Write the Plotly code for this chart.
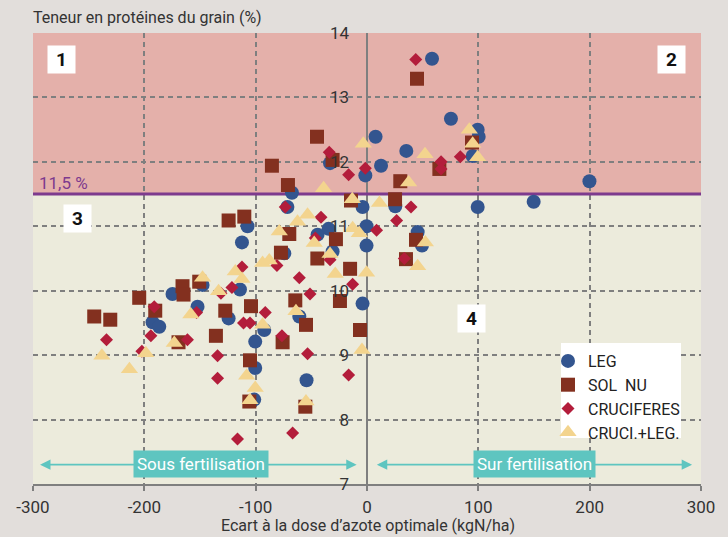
import plotly.graph_objects as go

# ---- data (x: écart à la dose optimale kgN/ha, y: teneur en protéines %) ----
leg_x = [58.4, 75.4, 35.3, 99.4, 100.3, 7.7, 12.6, -1.5, 94.9, -4, 25.4, 99.4, -0.4, -0.4,
         45.5, 49.4, 199.8, 149.7, -4, -33.2, -67.4, -44.4, -34.5, -30.9, -74.3, -60.8, -92.3,
         -100.4, -112.3, -107.3, -114.1, -124.3, -147.7, -152.2, -174.7, -192.6, -186.6,
         -71.5, -100.4, -101.3, -54.3]
leg_y = [13.60, 12.67, 12.17, 12.50, 12.39, 12.39, 11.94, 11.79, 12.09, 11.30, 11.31, 11.30,
         11.00, 10.70, 10.91, 10.70, 11.70, 11.38, 9.80, 11.98, 11.52, 10.87, 10.96, 10.61,
         10.58, 9.60, 9.39, 9.21, 10.75, 11.00, 10.02, 9.57, 10.09, 9.75, 9.95, 9.51, 9.44,
         11.30, 8.80, 8.31, 8.61]

solnu_x = [44.9, 29.9, 25.2, 65, 94.3, 44, 35, -44.9, -85.4, -71.0, -30.9, -14.4, -69.8,
           -27.9, -44.6, -15.2, -24.3, -64.4, -54.8, -75.8, -6.3, -124.3, -110.2, -77.3,
           -104.2, -127.3, -135.7, -169.3, -150.7, -165.7, -164.8, -190.2, -204.6, -245,
           -230.6, -105.1, -105.7, -55.4]
solnu_y = [13.29, 11.70, 11.42, 11.89, 12.30, 10.79, 10.49, 12.39, 11.94, 11.64, 12.03, 11.40,
           10.88, 10.80, 10.50, 10.34, 9.84, 9.85, 9.47, 9.20, 9.39, 11.09, 11.15, 10.59,
           9.76, 9.69, 9.30, 9.20, 10.14, 10.07, 9.94, 9.69, 9.89, 9.60, 9.55, 8.92, 8.28, 8.20]

cruc_x = [43.8, 83.8, 66.5, 66.5, -1.5, 39.5, 26.6, 8.6, 33.5, -33.9, -16.5, -41.3, -73.4,
          -46.4, -33.2, -60.8, -51.2, -12.9, -80.9, -112.3, -121.3, -131.2, -153.1, -191.1,
          -91.4, -110.9, -105.1, -76.4, -161.3, -194.1, -234, -202.2, -134.2, -134.2, -53.4,
          -16.5, -116.3, -66.8]
cruc_y = [13.59, 12.08, 12.00, 11.89, 11.90, 11.30, 11.09, 10.94, 10.50, 12.15, 11.80, 11.14,
          11.30, 10.82, 10.48, 10.20, 9.95, 10.10, 10.39, 10.37, 10.05, 9.96, 9.66, 9.75,
          9.66, 9.50, 9.50, 9.30, 9.24, 9.30, 9.24, 9.06, 8.99, 8.64, 9.02, 8.69, 7.70, 7.79]

crucleg_x = [-3.3, 52.1, 91.9, 94.9, 99.4, 37.4, 11.2, 52.4, 45.5, -0.4, -39, -13.2, -53.4,
             -62.4, -12.9, -6.9, -47.4, -33.2, -28.5, -78.8, -93.8, -87.8, -118.3, -112.3,
             -147.7, -133.3, -158.2, -93.8, -63.8, -173.1, -198.6, -238.1, -4.5, -213.4,
             -108.1, -100.4, -105.1, -54.8]
crucleg_y = [12.28, 12.12, 12.50, 12.28, 12.07, 11.68, 11.36, 10.75, 10.38, 10.28, 11.59, 11.42,
             11.18, 11.07, 10.97, 10.89, 10.74, 10.57, 10.26, 10.92, 10.43, 10.47, 10.30, 10.18,
             10.20, 9.99, 9.63, 9.47, 9.68, 9.19, 9.03, 8.99, 9.08, 8.78, 8.68, 8.49, 8.30, 8.28]

series_names = ["LEG", "SOL  NU", "CRUCIFERES", "CRUCI.+LEG."]
x_ticks = [-300, -200, -100, 0, 100, 200, 300]
y_ticks = [7, 8, 9, 10, 11, 12, 13, 14]
threshold = 11.5

FONT = "Roboto, sans-serif"
GRID = "#7f7f7f"
W, H = 728, 537
ML, MR, MT, MB = 33, 27, 33, 53
PW, PH = W - ML - MR, H - MT - MB


def px_x(p):
    return (p - ML) / PW


def px_y(p):
    return (H - MB - p) / PH


fig = go.Figure()
specs = [
    (leg_x, leg_y, series_names[0], "circle", 14, "#33558f"),
    (solnu_x, solnu_y, series_names[1], "square", 14, "#83301f"),
    (cruc_x, cruc_y, series_names[2], "diamond", 10, "#b31d3b"),
    (crucleg_x, crucleg_y, series_names[3], "triangle-up", 15, "#f3d48e"),
]
for xs, ys, name, sym, size, col in specs:
    fig.add_trace(go.Scatter(x=xs, y=ys, mode="markers", name=name,
                             marker=dict(symbol=sym, size=size, color=col, line=dict(width=0))))

# background zones
fig.add_shape(type="rect", xref="x", yref="y", x0=-300, x1=300, y0=threshold, y1=14,
              fillcolor="#e4b0aa", line_width=0, layer="below")
fig.add_shape(type="line", xref="x", yref="y", x0=-300, x1=300, y0=threshold, y1=threshold,
              line=dict(color="#7d3a8e", width=3), layer="between")
# legend white box
fig.add_shape(type="rect", xref="paper", yref="paper", x0=px_x(561), x1=px_x(681),
              y0=px_y(438), y1=px_y(343), fillcolor="white", line_width=0, layer="above")

# arrows
teal = "#5ec5c0"
for (x0, x1) in [(-295, -9.3), (7.5, 292)]:
    fig.add_annotation(x=x1, y=7.30, ax=x0, ay=7.30, xref="x", yref="y", axref="x", ayref="y",
                       text="", showarrow=True, arrowhead=2, startarrowhead=2, arrowside="end+start",
                       arrowwidth=1.6, arrowsize=1.3, startarrowsize=1.3, arrowcolor=teal)
for (xc, txt) in [(-149.5, "Sous fertilisation"), (150.8, "Sur fertilisation")]:
    fig.add_annotation(x=xc, y=7.31, xref="x", yref="y", text=txt, showarrow=False,
                       bgcolor=teal, font=dict(family=FONT, size=17, color="white"),
                       borderpad=3)

# quadrant boxes
for (xb, yb, t) in [(-274.2, 13.585, "1"), (273.9, 13.585, "2"), (-260, 11.117, "3"), (94.2, 9.575, "4")]:
    fig.add_annotation(x=xb, y=yb, xref="x", yref="y", text="<b>%s</b>" % t, showarrow=False,
                       bgcolor="white", width=25, height=25, font=dict(family=FONT, size=19, color="#111"))

fig.add_annotation(x=-296, y=11.675, xref="x", yref="y", text="11,5 %", showarrow=False,
                   xanchor="left", font=dict(family=FONT, size=17, color="#7d3a8e"))

# x axis title
fig.add_annotation(x=px_x(368), y=px_y(525), xref="paper", yref="paper",
                   text="Ecart à la dose d’azote optimale (kgN/ha)", showarrow=False,
                   xanchor="center", yanchor="middle",
                   font=dict(family=FONT, size=16, color="#333333"))

fig.update_layout(
    width=W, height=H,
    margin=dict(l=ML, r=MR, t=MT, b=MB, autoexpand=False),
    paper_bgcolor="#e2dedb",
    plot_bgcolor="#ecebdc",
    font=dict(family=FONT, size=17, color="#333333"),
    title=dict(text="Teneur en protéines du grain (%)", x=33 / W, xanchor="left",
               y=1 - 17 / H, yanchor="middle", font=dict(family=FONT, size=16, color="#333333")),
    showlegend=True,
    legend=dict(x=px_x(548), y=px_y(344), xanchor="left", yanchor="top",
                bgcolor="rgba(0,0,0,0)", borderwidth=0,
                font=dict(family=FONT, size=16, color="#222"), tracegroupgap=0,
                itemsizing="trace"),
    xaxis=dict(range=[-300, 300], tickvals=x_ticks, ticktext=[str(v) for v in x_ticks],
               showgrid=True, gridcolor=GRID, griddash="5px,4px", gridwidth=1.5,
               zeroline=True, zerolinecolor=GRID, zerolinewidth=2,
               showline=True, linecolor=GRID, linewidth=2, ticks="outside", ticklen=5,
               tickcolor=GRID, tickwidth=2, ticklabelstandoff=2, automargin=False),
    yaxis=dict(range=[7, 14], tickvals=y_ticks, ticktext=[str(v) for v in y_ticks],
               showgrid=True, gridcolor=GRID, griddash="5px,4px", gridwidth=1.5,
               zeroline=False, showline=False, ticks="", anchor="free", position=0.5,
               ticklabelstandoff=18, automargin=False),
)

fig.write_html("out.html", config={"displayModeBar": False},
               post_script="document.body.style.margin='0';document.body.style.overflow='hidden';")
